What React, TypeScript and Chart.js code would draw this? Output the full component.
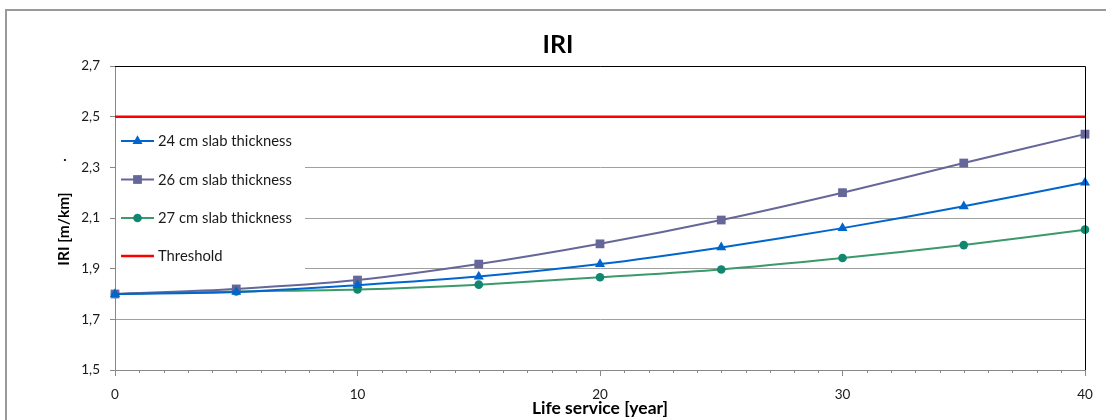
import React, { useEffect, useRef } from 'react';
import { Chart, registerables } from 'chart.js';

Chart.register(...registerables);

const years = [0, 5, 10, 15, 20, 25, 30, 35, 40];
const slab24 = [1.8, 1.808, 1.835, 1.869, 1.918, 1.984, 2.06, 2.146, 2.24];
const slab26 = [1.8, 1.82, 1.855, 1.918, 1.998, 2.092, 2.2, 2.317, 2.431];
const slab27 = [1.8, 1.81, 1.818, 1.837, 1.866, 1.897, 1.942, 1.993, 2.054];
const threshold = [2.5, 2.5, 2.5, 2.5, 2.5, 2.5, 2.5, 2.5, 2.5];
const seriesLabels = ['24 cm slab thickness', '26 cm slab thickness', '27 cm slab thickness', 'Threshold'];
const yTicks = [1.5, 1.7, 1.9, 2.1, 2.3, 2.5, 2.7];
const xMajorTicks = [0, 10, 20, 30, 40];
const xMinorTicks = [1, 2, 3, 4, 5, 6, 7, 8, 9, 11, 12, 13, 14, 15, 16, 17, 18, 19, 21, 22, 23, 24, 25, 26, 27, 28, 29, 31, 32, 33, 34, 35, 36, 37, 38, 39];
const chartTitle = 'IRI';
const xTitle = 'Life service [year]';
const yTitle = 'IRI [m/km]';

const FONT = 'Lato';

const toPoints = (vals: number[]) => years.map((x, i) => ({ x, y: vals[i] }));

const decorPlugin = {
  id: 'decor',
  beforeDraw(chart: any) {
    const { ctx, width, height } = chart;
    ctx.save();
    ctx.fillStyle = '#ffffff';
    ctx.fillRect(0, 0, width, height);
    ctx.strokeStyle = '#9a9a9a';
    ctx.lineWidth = 2;
    ctx.strokeRect(6, 10, width + 50, height + 50);
    ctx.restore();
  },
  afterDraw(chart: any) {
    const { ctx, chartArea } = chart;
    const xs = chart.scales.x;
    ctx.save();
    // plot border top/right
    ctx.strokeStyle = '#000000';
    ctx.lineWidth = 1;
    ctx.beginPath();
    ctx.moveTo(chartArea.left, chartArea.top + 0.5);
    ctx.lineTo(chartArea.right + 0.5, chartArea.top + 0.5);
    ctx.lineTo(chartArea.right + 0.5, chartArea.bottom);
    ctx.stroke();
    // minor x ticks
    ctx.strokeStyle = '#888888';
    ctx.beginPath();
    xMinorTicks.forEach((v) => {
      const px = Math.round(xs.getPixelForValue(v)) + 0.5;
      ctx.moveTo(px, chartArea.bottom);
      ctx.lineTo(px, chartArea.bottom + 3);
    });
    ctx.stroke();

    // legend
    ctx.fillStyle = '#ffffff';
    ctx.fillRect(chartArea.left + 1, 122, 189, 152);
    const rowY = [141, 179.5, 218, 256];
    chart.data.datasets.forEach((ds: any, i: number) => {
      const y = rowY[i];
      ctx.strokeStyle = ds.borderColor;
      ctx.lineWidth = ds.borderWidth;
      ctx.beginPath();
      ctx.moveTo(121, y);
      ctx.lineTo(154, y);
      ctx.stroke();
      const cx = 137.5;
      ctx.fillStyle = ds.pointBackgroundColor;
      if (ds.pointStyle === 'triangle') {
        const r = ds.pointRadius;
        ctx.beginPath();
        ctx.moveTo(cx, y - r);
        ctx.lineTo(cx + r * 0.866, y + r * 0.5);
        ctx.lineTo(cx - r * 0.866, y + r * 0.5);
        ctx.closePath();
        ctx.fill();
      } else if (ds.pointStyle === 'rect') {
        const s = ds.pointRadius * Math.SQRT1_2;
        ctx.fillRect(cx - s, y - s, 2 * s, 2 * s);
      } else if (ds.pointStyle === 'circle' && ds.pointRadius > 0) {
        ctx.beginPath();
        ctx.arc(cx, y, ds.pointRadius, 0, Math.PI * 2);
        ctx.fill();
      }
      ctx.fillStyle = '#1a1a1a';
      ctx.font = `14.8px ${FONT}`;
      ctx.textAlign = 'left';
      ctx.textBaseline = 'middle';
      ctx.fillText(seriesLabels[i], 158, y + 0.5);
    });

    // titles
    ctx.fillStyle = '#000000';
    ctx.textAlign = 'center';
    ctx.textBaseline = 'alphabetic';
    ctx.font = `bold 25px ${FONT}`;
    ctx.fillText(chartTitle, 558, 53);
    ctx.font = `bold 17.5px ${FONT}`;
    ctx.fillText(xTitle, (chartArea.left + chartArea.right) / 2, 414);
    ctx.save();
    ctx.translate(64, 229);
    ctx.rotate(-Math.PI / 2);
    ctx.textBaseline = 'middle';
    ctx.font = `bold 15.5px ${FONT}`;
    ctx.fillText(yTitle, 0, 0);
    ctx.restore();
    ctx.font = `bold 14px ${FONT}`;
    ctx.fillText('.', 65, 161);
    ctx.restore();
  },
};

export default function App() {
  const canvasRef = useRef<HTMLCanvasElement | null>(null);

  useEffect(() => {
    if (!canvasRef.current) return;
    Chart.defaults.font.family = FONT;
    const chart = new Chart(canvasRef.current, {
      type: 'line',
      data: {
        datasets: [
          {
            label: seriesLabels[0],
            data: toPoints(slab24),
            borderColor: '#0066CC',
            backgroundColor: '#0066CC',
            pointBackgroundColor: '#0066CC',
            pointBorderColor: '#0066CC',
            pointStyle: 'triangle',
            pointRadius: 5.8,
            pointBorderWidth: 0,
            borderWidth: 2,
            tension: 0.3,
            clip: false,
          },
          {
            label: seriesLabels[1],
            data: toPoints(slab26),
            borderColor: '#666699',
            backgroundColor: '#666699',
            pointBackgroundColor: '#666699',
            pointBorderColor: '#666699',
            pointStyle: 'rect',
            pointRadius: 6.2,
            pointBorderWidth: 0,
            borderWidth: 2,
            tension: 0.3,
            clip: false,
          },
          {
            label: seriesLabels[2],
            data: toPoints(slab27),
            borderColor: '#3A9A6A',
            backgroundColor: '#12876F',
            pointBackgroundColor: '#12876F',
            pointBorderColor: '#12876F',
            pointStyle: 'circle',
            pointRadius: 4.3,
            pointBorderWidth: 0,
            borderWidth: 2,
            tension: 0.3,
            clip: false,
          },
          {
            label: seriesLabels[3],
            data: toPoints(threshold),
            borderColor: '#FF0000',
            backgroundColor: '#FF0000',
            pointBackgroundColor: '#FF0000',
            pointStyle: 'circle',
            pointRadius: 0,
            borderWidth: 2.5,
            tension: 0,
            clip: false,
          },
        ],
      },
      options: {
        animation: false,
        responsive: false,
        devicePixelRatio: 1,
        layout: { padding: { top: 66, left: 0, right: 21, bottom: 0 } },
        plugins: {
          legend: { display: false },
          title: { display: false },
          tooltip: { enabled: false },
        },
        scales: {
          x: {
            type: 'linear',
            min: 0,
            max: 40,
            afterFit: (s: any) => {
              s.height = 50;
            },
            afterBuildTicks: (s: any) => {
              s.ticks = xMajorTicks.map((v) => ({ value: v }));
            },
            ticks: {
              color: '#1a1a1a',
              font: { size: 13.5, family: FONT },
              padding: 11,
              maxRotation: 0,
              autoSkip: false,
              callback: (v: any) => String(v),
            },
            grid: {
              drawOnChartArea: false,
              tickLength: 6,
              tickColor: '#888888',
            },
            border: { color: '#888888', width: 1 },
          },
          y: {
            type: 'linear',
            min: 1.5,
            max: 2.7,
            afterFit: (s: any) => {
              s.width = 115;
            },
            afterBuildTicks: (s: any) => {
              s.ticks = yTicks.map((v) => ({ value: v }));
            },
            ticks: {
              color: '#1a1a1a',
              font: { size: 13.5, family: FONT },
              padding: 10,
              autoSkip: false,
              callback: (v: any) => Number(v).toFixed(1).replace('.', ','),
            },
            grid: {
              color: '#a0a0a0',
              tickColor: '#888888',
              tickLength: 5,
              lineWidth: 1,
            },
            border: { color: '#888888', width: 1 },
          },
        },
      },
      plugins: [decorPlugin],
    } as any);
    return () => chart.destroy();
  }, []);

  return (
    <div style={{ position: 'absolute', left: 0, top: 0, width: 1106, height: 420 }}>
      <canvas ref={canvasRef} width={1106} height={420} style={{ display: 'block', width: 1106, height: 420 }} />
    </div>
  );
}
